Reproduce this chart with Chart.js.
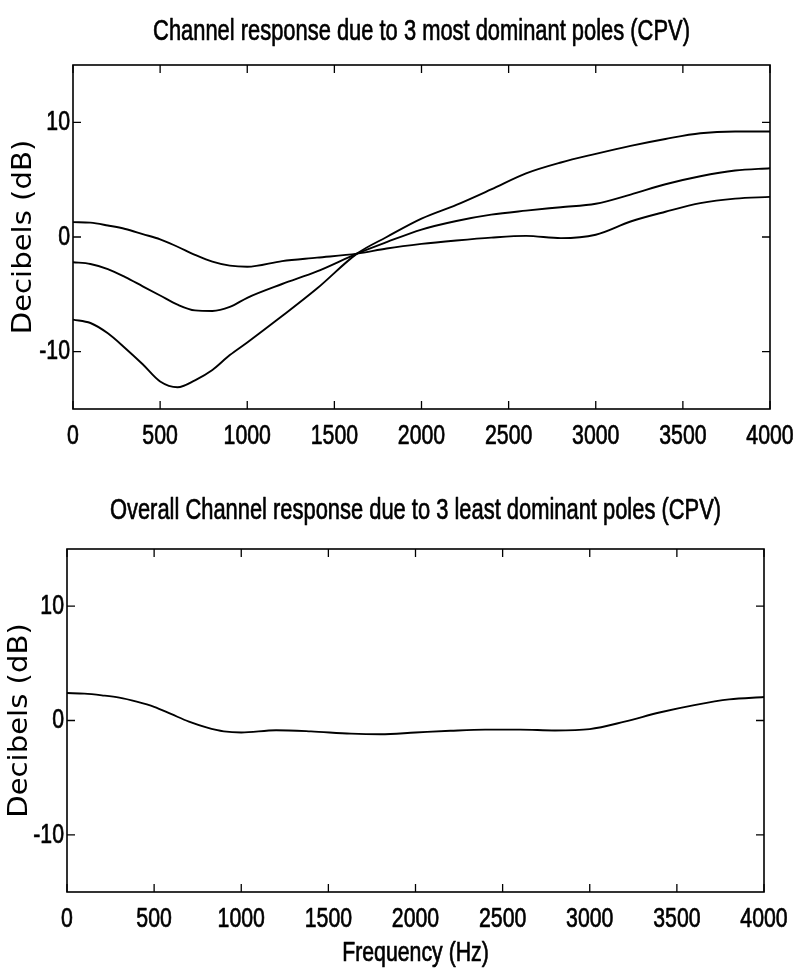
<!DOCTYPE html>
<html>
<head>
<meta charset="utf-8">
<script src="https://cdn.jsdelivr.net/npm/chart.js@4.4.1/dist/chart.umd.min.js"></script>
<style>
  html, body { margin: 0; padding: 0; background: #fff; }
  #wrap { position: relative; width: 798px; height: 976px; }
  canvas { position: absolute; left: 0; display: block; }
  #c1 { top: 0; }
  #c2 { top: 460px; }
</style>
</head>
<body>
<div id="wrap">
  <canvas id="c1" width="798" height="460"></canvas>
  <canvas id="c2" width="798" height="516"></canvas>
</div>
<script>
// Frequency grid (Hz) shared by all curves
const freqHz = [0, 100, 200, 300, 400, 500, 600, 700, 800, 900, 1000, 1200, 1400, 1630,
                1800, 2000, 2200, 2400, 2600, 2800, 3000, 3200, 3400, 3600, 3800, 4000];

// Responses (dB) of the 3 most dominant poles
const poleResp1 = [1.3, 1.25, 1.0, 0.7, 0.25, -0.2, -0.85, -1.55, -2.15, -2.5, -2.6, -2.1, -1.8, -1.45,
                   -1.0, -0.6, -0.3, -0.05, 0.1, -0.1, 0.2, 1.35, 2.2, 2.95, 3.35, 3.5];
const poleResp2 = [-2.2, -2.35, -2.8, -3.5, -4.3, -5.1, -5.9, -6.4, -6.45, -6.1, -5.3, -4.1, -3.0, -1.45,
                   -0.45, 0.65, 1.4, 1.95, 2.3, 2.6, 2.9, 3.7, 4.6, 5.3, 5.8, 6.0];
const poleResp3 = [-7.2, -7.5, -8.4, -9.7, -11.1, -12.6, -13.1, -12.5, -11.6, -10.3, -9.2, -6.9, -4.5, -1.45,
                   0.0, 1.6, 2.8, 4.15, 5.55, 6.5, 7.25, 7.95, 8.55, 9.05, 9.2, 9.2];

// Overall response (dB) of the 3 least dominant poles
const overallResp = [2.4, 2.35, 2.2, 2.0, 1.65, 1.2, 0.55, -0.1, -0.6, -0.95, -1.05, -0.85, -0.95, -1.15,
                     -1.2, -1.05, -0.9, -0.8, -0.8, -0.87, -0.75, -0.1, 0.7, 1.35, 1.85, 2.05];

// Tick values
const xTicks = [0, 500, 1000, 1500, 2000, 2500, 3000, 3500, 4000];
const yTicks = [-10, 0, 10];

const TITLE_FONT = "'Liberation Sans', Arial, sans-serif";
const LABEL_FONT = "'Liberation Sans', sans-serif";
const WIDE_FONT = "'DejaVu Sans', sans-serif";

// Horizontal text scaling: titles and labels drawn condensed (with a thin outline for
// a heavier print weight), the dB axis title slightly extended.
function styleText(canvas) {
  const ctx = canvas.getContext('2d');
  const fill = ctx.fillText;
  const stroke = ctx.strokeText;
  ctx.fillText = function (text, x, y) {
    const f = this.font;
    const wide = f.includes('DejaVu');
    const sx = wide ? 1.12 : (f.includes('Arial') ? 0.73 : 0.76);
    this.save();
    this.translate(x, y);
    this.scale(sx, 1);
    fill.call(this, text, 0, 0);
    if (!wide) {
      this.strokeStyle = this.fillStyle;
      this.lineWidth = 0.7;
      this.lineJoin = 'round';
      stroke.call(this, text, 0, 0);
    }
    this.restore();
  };
}

// Box frame with inward tick marks on all four sides
const framePlugin = {
  id: 'frame',
  afterDatasetsDraw(chart) {
    const { ctx, chartArea: a, scales: { x, y } } = chart;
    const L = 8;
    ctx.save();
    ctx.strokeStyle = '#000';
    ctx.lineWidth = 1.6;
    ctx.strokeRect(a.left, a.top, a.right - a.left, a.bottom - a.top);
    ctx.lineWidth = 1.3;
    ctx.beginPath();
    x.ticks.forEach(t => {
      const px = x.getPixelForValue(t.value);
      ctx.moveTo(px, a.bottom); ctx.lineTo(px, a.bottom - L);
      ctx.moveTo(px, a.top); ctx.lineTo(px, a.top + L);
    });
    y.ticks.forEach(t => {
      const py = y.getPixelForValue(t.value);
      ctx.moveTo(a.left, py); ctx.lineTo(a.left + L, py);
      ctx.moveTo(a.right, py); ctx.lineTo(a.right - L, py);
    });
    ctx.stroke();
    ctx.restore();
  }
};

function series(values) {
  return {
    data: freqHz.map((f, i) => ({ x: f, y: values[i] })),
    borderColor: '#000',
    borderWidth: 1.9,
    pointRadius: 0,
    fill: false,
    cubicInterpolationMode: 'monotone'
  };
}

function options(cfg) {
  return {
    responsive: false,
    animation: false,
    layout: { padding: { left: 0, right: cfg.padRight, top: 0, bottom: 0 } },
    plugins: {
      legend: { display: false },
      tooltip: { enabled: false },
      title: {
        display: true,
        fullSize: false,
        text: cfg.title,
        color: '#000',
        font: { family: TITLE_FONT, size: 30, weight: 'normal', lineHeight: 1.2 },
        padding: { top: cfg.titleTop, bottom: cfg.titleBottom }
      }
    },
    scales: {
      x: {
        type: 'linear',
        min: 0,
        max: 4000,
        grid: { display: false, drawTicks: false },
        border: { display: false },
        afterBuildTicks: s => { s.ticks = xTicks.map(v => ({ value: v })); },
        afterFit: s => { s.height = cfg.xHeight; s.paddingLeft = 0; s.paddingRight = 0; },
        ticks: {
          color: '#000',
          font: { family: LABEL_FONT, size: 28, lineHeight: 1.2 },
          padding: 10,
          maxRotation: 0,
          autoSkip: false,
          callback: v => String(v)
        },
        title: cfg.xTitle ? {
          display: true,
          text: cfg.xTitle,
          color: '#000',
          font: { family: LABEL_FONT, size: 28, lineHeight: 1.2 },
          padding: { top: 0, bottom: 6 }
        } : { display: false }
      },
      y: {
        type: 'linear',
        min: -15,
        max: 15,
        grid: { display: false, drawTicks: false },
        border: { display: false },
        afterBuildTicks: s => { s.ticks = yTicks.map(v => ({ value: v })); },
        afterFit: s => { s.width = cfg.yWidth; s.paddingTop = 0; s.paddingBottom = 0; },
        ticks: {
          color: '#000',
          font: { family: LABEL_FONT, size: 28, lineHeight: 1.2 },
          padding: 3,
          callback: v => String(v)
        },
        title: {
          display: true,
          text: 'Decibels (dB)',
          color: '#000',
          font: { family: WIDE_FONT, size: 26, lineHeight: 1.2 },
          padding: { top: cfg.yTitlePad, bottom: 0 }
        }
      }
    }
  };
}

const c1 = document.getElementById('c1');
const c2 = document.getElementById('c2');
styleText(c1);
styleText(c2);

new Chart(c1, {
  type: 'line',
  data: { datasets: [series(poleResp1), series(poleResp2), series(poleResp3)] },
  options: options({
    title: 'Channel response due to 3 most dominant poles (CPV)',
    titleTop: 14, titleBottom: 15,
    padRight: 28, yWidth: 73, xHeight: 51, yTitlePad: 9
  }),
  plugins: [framePlugin]
});

new Chart(c2, {
  type: 'line',
  data: { datasets: [series(overallResp)] },
  options: options({
    title: 'Overall Channel response due to 3 least dominant poles (CPV)',
    titleTop: 33, titleBottom: 20,
    padRight: 34, yWidth: 67, xHeight: 84, yTitlePad: 5,
    xTitle: 'Frequency (Hz)'
  }),
  plugins: [framePlugin]
});
</script>
</body>
</html>
